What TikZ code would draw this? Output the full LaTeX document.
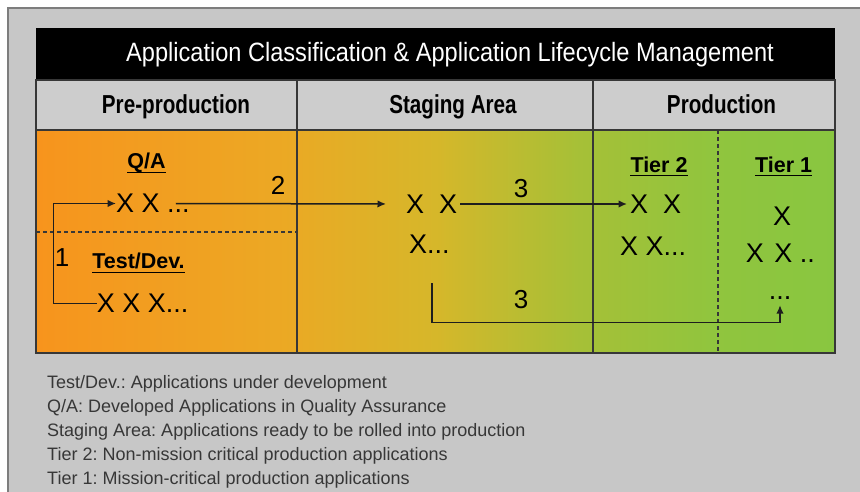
\documentclass[tikz,border=0pt]{standalone}
\usepackage{fontspec}
\usepackage{graphicx}
\setmainfont{Liberation Sans}
\usetikzlibrary{arrows.meta}
\frenchspacing
\definecolor{outerbg}{RGB}{199,199,199}
\definecolor{framec}{RGB}{125,125,125}
\definecolor{hdrbg}{RGB}{205,205,205}
\definecolor{bdc}{RGB}{55,55,55}
\definecolor{lc}{RGB}{30,30,30}
\definecolor{legc}{RGB}{55,55,55}
\definecolor{cA}{RGB}{247,148,29}
\definecolor{cB}{RGB}{236,168,36}
\definecolor{cC}{RGB}{214,183,42}
\definecolor{cD}{RGB}{166,192,55}
\definecolor{cE}{RGB}{144,197,62}
\definecolor{cF}{RGB}{137,198,64}
\pgfdeclarehorizontalshading{bodyshade}{100bp}{color(0bp)=(cA); color(25bp)=(cA); color(40bp)=(cB); color(50bp)=(cC); color(59bp)=(cD); color(67.5bp)=(cE); color(75bp)=(cF); color(100bp)=(cF)}
\newcommand\xfont{\fontsize{27}{30}\selectfont}
\newcommand\numfont{\fontsize{26}{30}\selectfont}
\newcommand\lblfont{\fontsize{21.5}{25}\selectfont\bfseries}
\newcommand\hdrfont{\fontsize{26}{30}\selectfont\bfseries}
\newcommand\ttlfont{\fontsize{26.5}{30}\selectfont}
\newcommand\legfont{\fontsize{18}{22}\selectfont}
\tikzset{
  xs/.style={font=\xfont, inner sep=0pt, anchor=west, text=black},
  lbl/.style={font=\lblfont, inner sep=0pt, anchor=base, text=black},
  num/.style={font=\numfont, inner sep=0pt, anchor=base, text=black},
  hdr/.style={font=\hdrfont, inner sep=0pt, anchor=base, text=black},
  leg/.style={font=\legfont, inner sep=0pt, anchor=base west, text=legc},
  ln/.style={draw=lc, line width=1.5pt},
  arr/.style={draw=lc, line width=1.5pt, -{Latex[length=8.5pt,width=7.5pt]}},
  bd/.style={draw=bdc, line width=1.3pt},
  dsh/.style={draw=bdc, line width=1.1pt, dash pattern=on 4pt off 3pt},
  ul/.style={draw=black, line width=1.6pt}
}
\begin{document}
\begin{tikzpicture}[x=1pt,y=-1pt]
\useasboundingbox (0,0) rectangle (860,492);
\fill[white] (0,0) rectangle (860,492);
\filldraw[fill=outerbg, draw=framec, line width=2pt] (8,8) rectangle (900,540);
% table
\fill[black] (36,28) rectangle (835,80);
\fill[hdrbg] (36,80) rectangle (835,130);
\shade[shading=bodyshade] (36,130) rectangle (835,353);
\draw[bd] (36,80) rectangle (835,353);
\draw[bd] (36,130) -- (835,130);
\draw[bd] (297,80) -- (297,353);
\draw[bd] (593,80) -- (593,353);
\draw[dsh] (718,130) -- (718,353);
\draw[dsh] (36,232) -- (297,232);
% title and headers
\node[font=\ttlfont, inner sep=0pt, anchor=base, text=white] (title) at (450,62) {\scalebox{0.89}[1]{Application Classification \& Application Lifecycle Management}};
\node[hdr] (hpre) at (176,114) {\scalebox{0.795}[1]{Pre-production}};
\node[hdr] (hstg) at (453,114) {\scalebox{0.795}[1]{Staging Area}};
\node[hdr] (hprd) at (721.5,114) {\scalebox{0.795}[1]{Production}};
% labels
\node[lbl] (qa) at (146.5,169) {Q/A};
\node[lbl] (td) at (138.5,268) {Test/Dev.};
\node[lbl] (t2) at (659,172) {Tier 2};
\node[lbl] (t1) at (783.7,172) {Tier 1};
\draw[ul] ([yshift=-3.5pt]qa.base west) -- ([yshift=-3.5pt]qa.base east);
\draw[ul] ([yshift=-4.5pt]td.base west) -- ([yshift=-4.5pt]td.base east);
\draw[ul] ([yshift=-3.5pt]t2.base west) -- ([yshift=-3.5pt]t2.base east);
\draw[ul] ([yshift=-3.5pt]t1.base west) -- ([yshift=-3.5pt]t1.base east);
% items
\node[xs] (qaxx) at (116,203.5) {X X ...};
\node[xs] (tdxxx) at (96.7,303.5) {X X X...};
\node[xs] (sxx) at (406,204) {X\hspace{7.5pt} X};
\node[xs] (sx) at (409,244) {X...};
\node[xs] (t2xx) at (630,204) {X\hspace{7.5pt} X};
\node[xs] (t2xx2) at (620,246) {X X...};
\node[xs, anchor=center] (t1x) at (782,216.5) {X};
\node[xs] (t1xx) at (745.7,253) {X\hspace{3pt} X ..};
\node[xs, anchor=base] (t1dots) at (780,299) {...};
% numbers
\node[num] (n1) at (62,266.5) {1};
\node[num] (n2) at (278,195) {2};
\node[num] (n3a) at (521,197.5) {3};
\node[num] (n3b) at (521,308) {3};
% connectors
\coordinate (c1) at (53.5,303.5);
\draw[arr] (tdxxx.west) -- (c1) |- (qaxx.west);
\draw[arr, shorten >=20pt] ([xshift=-14pt]qaxx.east) -- (sxx.west);
\draw[arr, shorten <=3pt, shorten >=3pt] (sxx.east) -- (t2xx.west);
\coordinate (c3a) at (432,283);
\coordinate (c3b) at (432,322.5);
\draw[arr, shorten >=6pt] (c3a) -- (c3b) -| (t1dots.south);
% legend
\node[leg] (l1) at (47,388) {Test/Dev.: Applications under development};
\node[leg] (l2) at (47,412) {Q/A: Developed Applications in Quality Assurance};
\node[leg] (l3) at (47,436) {Staging Area: Applications ready to be rolled into production};
\node[leg] (l4) at (47,460) {Tier 2: Non-mission critical production applications};
\node[leg] (l5) at (47,484) {Tier 1: Mission-critical production applications};
\end{tikzpicture}
\end{document}
